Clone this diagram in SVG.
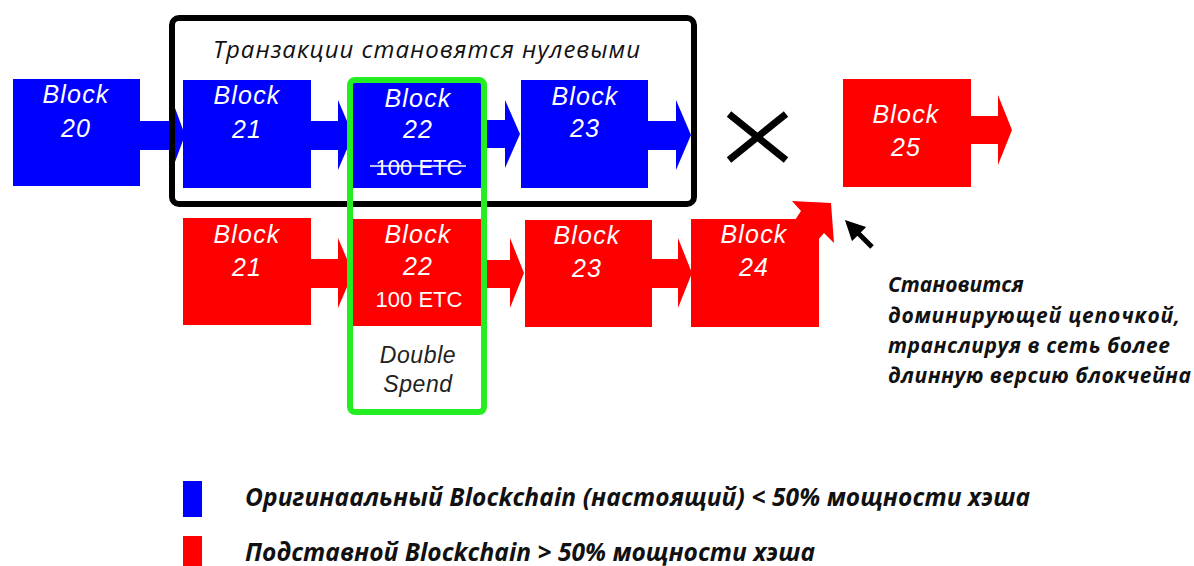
<svg xmlns="http://www.w3.org/2000/svg" width="1194" height="566" viewBox="0 0 1194 566">
<style>
.b{fill:#0000ff}
.r{fill:#ff0000}
.lbl{font-family:"Liberation Sans",Arial,sans-serif;font-style:italic;font-size:25px;letter-spacing:1.2px;fill:#fff;text-anchor:middle}
.etc{font-family:"Liberation Sans",Arial,sans-serif;font-size:22px;fill:#fff;text-anchor:middle}
.ds{font-family:"Liberation Sans",Arial,sans-serif;font-style:italic;font-size:23px;letter-spacing:0.6px;fill:#222;text-anchor:middle}
.ann{font-family:"Open Sans","Liberation Sans",sans-serif;font-style:italic;font-weight:700;font-size:21px;fill:#111}
.leg{font-family:"Open Sans","Liberation Sans",sans-serif;font-style:italic;font-weight:700;font-size:24.5px;fill:#111}
.ttl{font-family:"Open Sans","Liberation Sans",sans-serif;font-style:italic;font-size:24px;fill:#111}
</style>
<defs>
<marker id="ah" markerWidth="4" markerHeight="4" refX="2" refY="2" orient="auto" markerUnits="strokeWidth">
<path d="M0,0 L4,2 L0,4 z" fill="#000"/>
</marker>
</defs>
<g id="connectors">
<polygon class="b" points="139,121 172,121 172,100 185,135 172,170 172,150 139,150"/>
<polygon class="b" points="310,121 338,121 338,100 353,135 338,170 338,150 310,150"/>
<polygon class="b" points="481,120 505,120 505,100 520,134 505,168 505,148 481,148"/>
<polygon class="b" points="647,121 676,121 676,100 691,135 676,170 676,150 647,150"/>
<polygon class="r" points="310,259 338,259 338,238 353,273 338,308 338,288 310,288"/>
<polygon class="r" points="481,260 510,260 510,238 524,273 510,308 510,288 481,288"/>
<polygon class="r" points="651,259 678,259 678,238 692,273 678,308 678,288 651,288"/>
<polygon class="r" points="970,116 998,116 998,95 1012,130 998,165 998,144 970,144"/>
<polygon class="r" points="795,220 801,211 792,201 831,203 834,243 824,233 818,240 818,220"/>
<line x1="872" y1="247" x2="852" y2="227" stroke="#000" stroke-width="5" marker-end="url(#ah)"/>
</g>
<g id="block20"><rect class="b" x="13" y="79" width="127" height="107"/><text class="lbl" x="76" y="103">Block</text><text class="lbl" x="76" y="137">20</text></g>
<g id="block21"><rect class="b" x="183" y="80" width="128" height="108"/><text class="lbl" x="247" y="104">Block</text><text class="lbl" x="247" y="138">21</text></g>
<g id="block22"><rect class="b" x="352" y="83" width="130" height="105"/><text class="lbl" x="418" y="107">Block</text><text class="lbl" x="418" y="138">22</text><text class="etc" x="419" y="175">100 ETC</text><line x1="370" y1="166" x2="466" y2="166" stroke="#fff" stroke-width="1.5"/></g>
<g id="block23"><rect class="b" x="521" y="80" width="127" height="108"/><text class="lbl" x="585" y="105">Block</text><text class="lbl" x="585" y="137">23</text></g>
<g id="block21r"><rect class="r" x="183" y="218" width="128" height="107"/><text class="lbl" x="247" y="243">Block</text><text class="lbl" x="247" y="276">21</text></g>
<g id="block22r"><rect class="r" x="352" y="219" width="130" height="107"/><text class="lbl" x="418" y="243">Block</text><text class="lbl" x="418" y="275">22</text><text class="etc" x="419" y="307">100 ETC</text></g>
<g id="block23r"><rect class="r" x="525" y="220" width="127" height="107"/><text class="lbl" x="587" y="244">Block</text><text class="lbl" x="587" y="277">23</text></g>
<g id="block24r"><rect class="r" x="691" y="219" width="128" height="108"/><text class="lbl" x="754" y="243">Block</text><text class="lbl" x="754" y="276">24</text></g>
<g id="block25r"><rect class="r" x="843" y="79" width="128" height="108"/><text class="lbl" x="906" y="123">Block</text><text class="lbl" x="906" y="156">25</text></g>
<g id="cross"><line x1="729" y1="114" x2="786" y2="160" stroke="#000" stroke-width="7"/><line x1="786" y1="114" x2="729" y2="160" stroke="#000" stroke-width="7"/></g>
<g id="nullbox"><rect x="172" y="18" width="522" height="186" rx="7" fill="none" stroke="#000" stroke-width="6"/><text class="ttl" x="213" y="58" textLength="427">Транзакции становятся нулевыми</text></g>
<g id="doublespend"><rect x="350" y="80" width="134" height="332" rx="5" fill="none" stroke="#22ee22" stroke-width="6"/><text class="ds" x="418" y="363">Double</text><text class="ds" x="418" y="392">Spend</text></g>
<g id="note">
<text class="ann" x="888" y="292">Становится</text>
<text class="ann" x="888" y="323" textLength="292">доминирующей цепочкой,</text>
<text class="ann" x="888" y="353" textLength="282">транслируя в сеть более</text>
<text class="ann" x="888" y="383" textLength="303">длинную версию блокчейна</text>
</g>
<g id="legend">
<rect class="b" x="183" y="481" width="19" height="36"/>
<text class="leg" x="245" y="506" textLength="785">Оригинаальный Blockchain (настоящий) &lt; 50% мощности хэша</text>
<rect class="r" x="183" y="536" width="19" height="32"/>
<text class="leg" x="245" y="561" textLength="570">Подставной Blockchain &gt; 50% мощности хэша</text>
</g>
</svg>
